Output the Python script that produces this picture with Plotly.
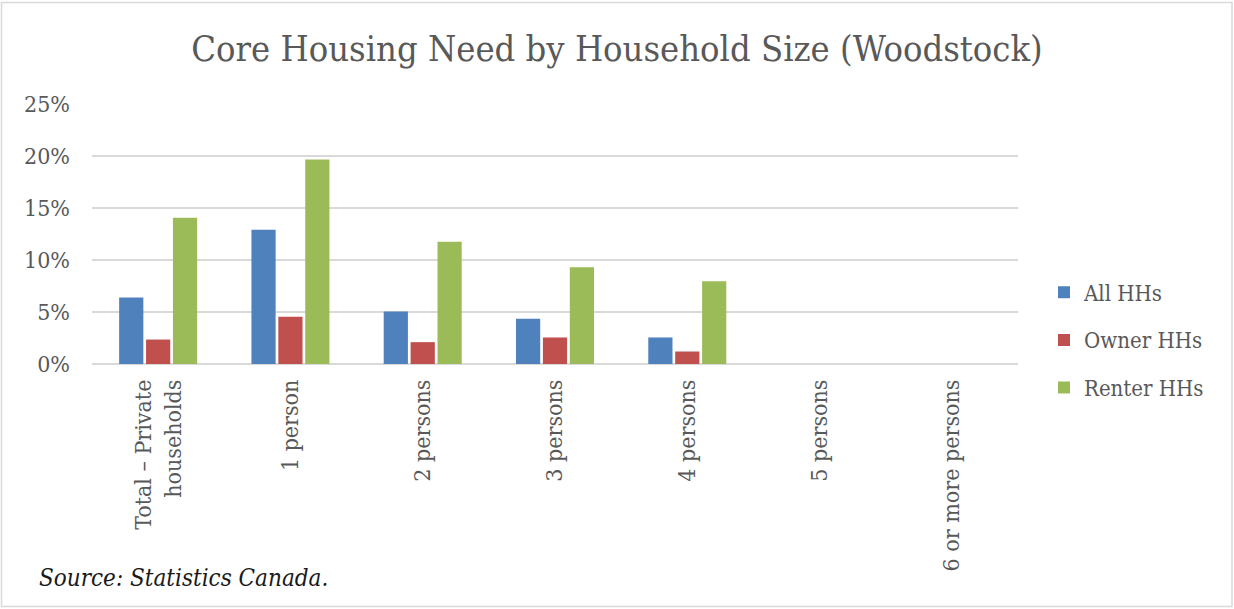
import plotly.graph_objects as go

# Household size categories and core-housing-need rates (%)
categories = [
    "Total – Private<br>households",
    "1 person",
    "2 persons",
    "3 persons",
    "4 persons",
    "5 persons",
    "6 or more persons",
]
all_hhs = [6.4, 12.9, 5.05, 4.35, 2.55, 0, 0]
owner_hhs = [2.35, 4.55, 2.1, 2.55, 1.2, 0, 0]
renter_hhs = [14.05, 19.65, 11.75, 9.3, 7.95, 0, 0]

series_names = ["All HHs", "Owner HHs", "Renter HHs"]
series_colors = ["#4F81BD", "#C0504D", "#9BBB59"]
y_ticks = [0, 5, 10, 15, 20, 25]
y_tick_labels = ["0%", "5%", "10%", "15%", "20%", "25%"]

SERIF = "DejaVu Serif Condensed, DejaVu Serif, serif"
TEXT_GREY = "#595959"

W, H = 1234, 609
L, R, T, B = 92, 216, 103, 245
pw, ph = W - L - R, H - T - B


def px_x(x):
    return (x - L) / pw


def px_y(y):
    return (H - B - y) / ph


fig = go.Figure()
for name, vals, color in zip(series_names, [all_hhs, owner_hhs, renter_hhs], series_colors):
    fig.add_trace(
        go.Bar(
            x=categories,
            y=vals,
            name=name,
            legendgroup=name,
            marker=dict(color=color, line=dict(width=0)),
        )
    )

fig.update_layout(
    width=W,
    height=H,
    margin=dict(l=L, r=R, t=T, b=B, autoexpand=False),
    paper_bgcolor="white",
    plot_bgcolor="white",
    barmode="group",
    bargap=0.39,
    bargroupgap=0.1,
    title=dict(
        text="Core Housing Need by Household Size (Woodstock)",
        x=0.5,
        xanchor="center",
        y=1 - 48 / H,
        yanchor="middle",
        font=dict(family=SERIF, size=36, color=TEXT_GREY),
    ),
    xaxis=dict(
        tickangle=-90,
        tickfont=dict(family=SERIF, size=23, color=TEXT_GREY),
        showline=False,
        ticks="",
        showgrid=False,
        ticklabelstandoff=10,
    ),
    yaxis=dict(
        range=[0, 25.08],
        tickvals=y_ticks,
        ticktext=y_tick_labels,
        tickfont=dict(family=SERIF, size=23, color=TEXT_GREY),
        showgrid=True,
        gridcolor="#D9D9D9",
        gridwidth=1.5,
        zeroline=True,
        zerolinecolor="#D9D9D9",
        zerolinewidth=1.5,
        showline=False,
        ticks="",
        ticklabelstandoff=21,
    ),
    legend=dict(
        x=px_x(1044),
        xanchor="left",
        y=px_y(340),
        yanchor="middle",
        font=dict(family=SERIF, size=22, color=TEXT_GREY),
        tracegroupgap=16,
        itemwidth=30,
        bgcolor="rgba(0,0,0,0)",
    ),
    showlegend=True,
    annotations=[
        dict(
            text="<i>Source: Statistics Canada.</i>",
            xref="paper",
            yref="paper",
            x=px_x(37),
            y=px_y(578),
            xanchor="left",
            yanchor="middle",
            showarrow=False,
            font=dict(family=SERIF, size=24, color="#1a1a1a"),
        )
    ],
    shapes=[
        dict(
            type="rect",
            xref="paper",
            yref="paper",
            x0=px_x(1.5),
            x1=px_x(1232),
            y0=px_y(606.5),
            y1=px_y(2.5),
            line=dict(color="#D9D9D9", width=1.5),
            fillcolor="rgba(0,0,0,0)",
            layer="below",
        )
    ],
)

fig.write_html("out.html")
